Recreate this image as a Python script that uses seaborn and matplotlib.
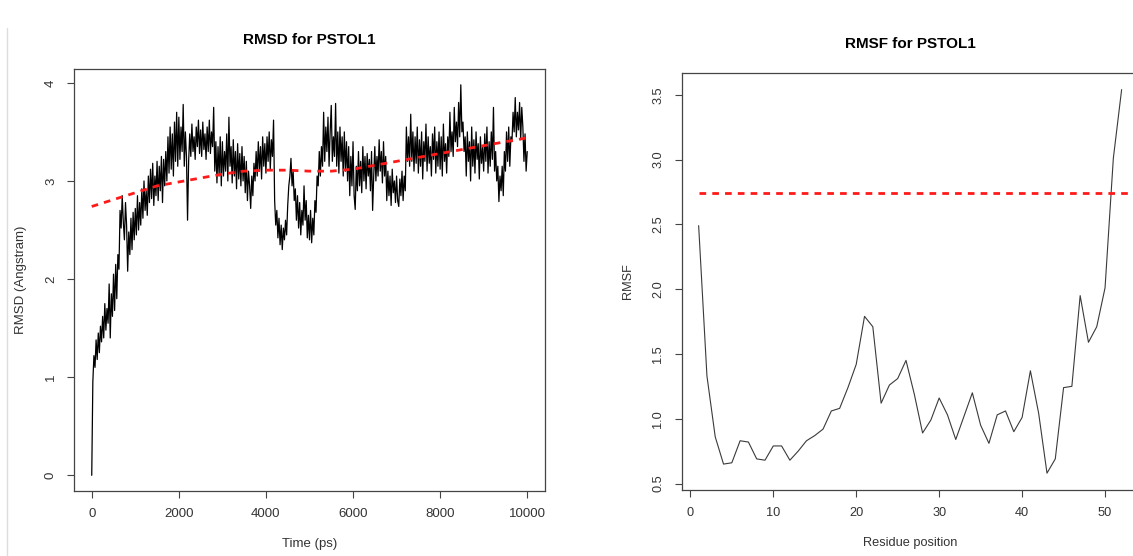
import numpy as np
import pandas as pd
import seaborn as sns
import matplotlib.pyplot as plt
from matplotlib.lines import Line2D

sns.set_style("ticks")
plt.rcParams['font.family'] = ['Liberation Sans', 'DejaVu Sans']

# RMSD trace, every 25 ps (one row = 500 ps)
time_ps = np.arange(0, 10001, 25)
rmsd = [
    0.00, 0.95, 1.22, 1.10, 1.38, 1.18, 1.45, 1.25, 1.52, 1.36, 1.62, 1.40, 1.75, 1.48, 1.70, 1.55, 1.95, 1.40, 1.85, 1.62,
    2.05, 1.68, 2.15, 1.80, 2.25, 2.10, 2.70, 2.52, 2.85, 2.58, 2.40, 2.78, 2.55, 2.08, 2.48, 2.25, 2.62, 2.30, 2.68, 2.40,
    2.72, 2.45, 2.85, 2.50, 2.78, 2.55, 2.92, 2.62, 3.00, 2.70, 2.90, 2.65, 3.05, 2.78, 3.12, 2.82, 3.18, 2.75, 3.05, 2.85,
    3.20, 2.80, 3.15, 2.90, 3.25, 2.78, 3.22, 2.95, 3.30, 3.00, 3.45, 3.08, 3.55, 3.12, 3.48, 3.05, 3.60, 3.20, 3.70, 3.15,
    3.65, 3.22, 3.55, 3.30, 3.78, 3.15, 3.50, 3.25, 2.60, 3.20, 3.48, 3.25, 3.58, 3.30, 3.45, 3.22, 3.55, 3.35, 3.62, 3.28,
    3.52, 3.25, 3.60, 3.32, 3.48, 3.22, 3.55, 3.30, 3.62, 3.28, 3.50, 3.35, 3.75, 3.10, 3.40, 2.98, 3.35, 3.05, 3.45, 2.95,
    3.40, 3.05, 3.30, 3.10, 3.48, 3.00, 3.65, 3.15, 3.35, 2.98, 3.42, 3.05, 3.30, 2.92, 3.38, 3.02, 3.28, 2.95, 3.35, 3.00,
    3.25, 2.88, 3.20, 2.80, 3.10, 2.95, 2.72, 3.05, 2.85, 3.18, 3.00, 3.30, 3.05, 3.40, 3.10, 3.35, 3.02, 3.45, 3.15, 3.38,
    3.08, 3.45, 3.20, 3.50, 3.12, 3.42, 3.25, 3.62, 2.80, 2.55, 2.70, 2.42, 2.62, 2.35, 2.55, 2.30, 2.52, 2.40, 2.60, 2.45,
    2.75, 2.95, 3.05, 3.23, 2.95, 3.10, 2.80, 2.92, 2.60, 2.85, 2.52, 2.78, 2.45, 2.70, 2.55, 2.95, 2.60, 2.80, 2.42, 2.65,
    2.40, 2.70, 2.37, 2.62, 2.45, 2.80, 2.68, 3.05, 2.95, 3.30, 3.05, 3.35, 3.15, 3.70, 3.20, 3.55, 3.30, 3.65, 3.15, 3.50,
    3.77, 3.20, 3.45, 3.25, 3.79, 3.15, 3.50, 3.08, 3.55, 3.20, 3.45, 3.05, 3.50, 3.10, 3.40, 3.00, 3.35, 2.85, 3.25, 2.95,
    3.40, 2.85, 2.71, 3.15, 2.90, 3.30, 2.95, 3.20, 2.88, 3.35, 3.00, 3.25, 2.92, 3.28, 3.05, 3.22, 2.90, 3.30, 2.70, 3.05,
    3.35, 3.00, 3.25, 3.05, 3.42, 3.10, 3.30, 2.98, 3.40, 3.05, 3.25, 2.80, 3.10, 2.85, 3.05, 2.75, 3.12, 2.88, 3.00, 2.78,
    3.05, 2.80, 2.74, 3.02, 2.85, 3.10, 2.80, 3.05, 2.90, 3.55, 3.20, 3.45, 3.15, 3.68, 3.20, 3.50, 3.10, 3.45, 3.18, 3.55,
    3.08, 3.42, 3.15, 3.50, 3.02, 3.40, 3.20, 3.58, 3.10, 3.45, 3.18, 3.35, 3.05, 3.48, 3.22, 3.55, 3.08, 3.40, 3.15, 3.50,
    3.12, 3.45, 3.05, 3.58, 3.20, 3.38, 3.08, 3.45, 3.25, 3.70, 3.30, 3.50, 3.25, 3.75, 3.40, 3.60, 3.35, 3.80, 3.45, 3.98,
    3.50, 3.60, 3.30, 3.45, 3.05, 3.50, 3.20, 3.40, 3.00, 3.55, 3.15, 3.42, 3.08, 3.50, 3.22, 3.38, 3.02, 3.45, 3.18, 3.35,
    3.10, 3.48, 3.20, 3.55, 3.08, 3.40, 3.15, 3.50, 3.22, 3.75, 3.10, 3.30, 3.00, 3.15, 2.79, 3.05, 2.90, 3.15, 2.85, 3.30,
    3.10, 3.50, 3.20, 3.55, 3.15, 3.45, 3.40, 3.70, 3.50, 3.85, 3.45, 3.70, 3.52, 3.80, 3.42, 3.75, 3.55, 3.20, 3.48, 3.10,
    3.30,
]

# smoothed trend (red dashed), every 500 ps
trend_time = np.arange(0, 10001, 500)
rmsd_trend = [2.74, 2.81, 2.88, 2.95, 2.99, 3.03, 3.07, 3.10, 3.11, 3.11,
              3.10, 3.10, 3.12, 3.16, 3.20, 3.24, 3.28, 3.32, 3.36, 3.40, 3.44]

# RMSF per residue
residue = np.arange(1, 53)
rmsf = [2.49, 1.33, 0.86, 0.65, 0.66, 0.83, 0.82, 0.69, 0.68, 0.79,
        0.79, 0.68, 0.75, 0.83, 0.87, 0.92, 1.06, 1.08, 1.24, 1.42,
        1.79, 1.71, 1.12, 1.26, 1.31, 1.45, 1.19, 0.89, 0.99, 1.16,
        1.03, 0.84, 1.02, 1.20, 0.95, 0.81, 1.03, 1.06, 0.90, 1.01,
        1.37, 1.04, 0.58, 0.69, 1.24, 1.25, 1.95, 1.59, 1.71, 2.01,
        3.01, 3.54]
rmsf_ref = 2.74

df_rmsd = pd.DataFrame({"time": time_ps, "rmsd": rmsd})
df_trend = pd.DataFrame({"time": trend_time, "rmsd": rmsd_trend})
df_rmsf = pd.DataFrame({"residue": residue, "rmsf": rmsf})

fig = plt.figure(figsize=(11.33, 5.56), dpi=100)
ax1 = fig.add_axes([0.0656, 0.1169, 0.4151, 0.7588])
ax2 = fig.add_axes([0.6017, 0.1187, 0.4032, 0.7505])

ink = "#333333"
frame = "#444444"

sns.lineplot(data=df_rmsd, x="time", y="rmsd", ax=ax1, color="black",
             linewidth=0.9, sort=False, estimator=None)
sns.lineplot(data=df_trend, x="time", y="rmsd", ax=ax1, color="#ff1a1a",
             linewidth=2, dashes=False, sort=False, estimator=None)
ax1.lines[-1].set_dashes((2.4, 2.2))

sns.lineplot(data=df_rmsf, x="residue", y="rmsf", ax=ax2, color="#3a3a3a",
             linewidth=0.8, sort=False, estimator=None)

ax1.set_xlim(-400, 10400)
ax1.set_ylim(-0.16, 4.14)
ax1.set_xticks([0, 2000, 4000, 6000, 8000, 10000])
ax1.set_yticks([0, 1, 2, 3, 4])

ax2.set_xlim(-1.04, 54.04)
ax2.set_ylim(0.45, 3.67)
ax2.set_xticks([0, 10, 20, 30, 40, 50])
ax2.set_yticks([0.5, 1.0, 1.5, 2.0, 2.5, 3.0, 3.5])
ax2.set_yticklabels(["0.5", "1.0", "1.5", "2.0", "2.5", "3.0", "3.5"])
ax2.hlines(rmsf_ref, residue[0], ax2.get_xlim()[1], colors="#ff1a1a",
           linewidth=2, linestyles=(0, (2.4, 2.2)))

for ax, title, xl, yl, fs in [
        (ax1, "RMSD for PSTOL1", "Time (ps)", "RMSD (Angstram)", 9.5),
        (ax2, "RMSF for PSTOL1", "Residue position", "RMSF", 9.2)]:
    ax.set_title(title, fontsize=11, fontweight="bold", color="black", pad=18)
    ax.set_xlabel(xl, fontsize=fs, color=ink, labelpad=13)
    ax.set_ylabel(yl, fontsize=fs, color=ink, labelpad=13)
    ax.tick_params(length=5, width=0.8, color=frame, labelcolor=ink,
                   labelsize=fs, pad=7.5)
    plt.setp(ax.get_yticklabels(), rotation=90, va="center")
    for s in ax.spines.values():
        s.set_color(frame)
        s.set_linewidth(0.9)
        s.set_visible(True)
    ax.grid(False)

# faint border line at the left edge of the original image
fig.add_artist(Line2D([0.0062, 0.0062], [0.0, 0.95], color="#dddddd",
                      linewidth=1, transform=fig.transFigure))

fig.savefig("out.png", dpi=100)
